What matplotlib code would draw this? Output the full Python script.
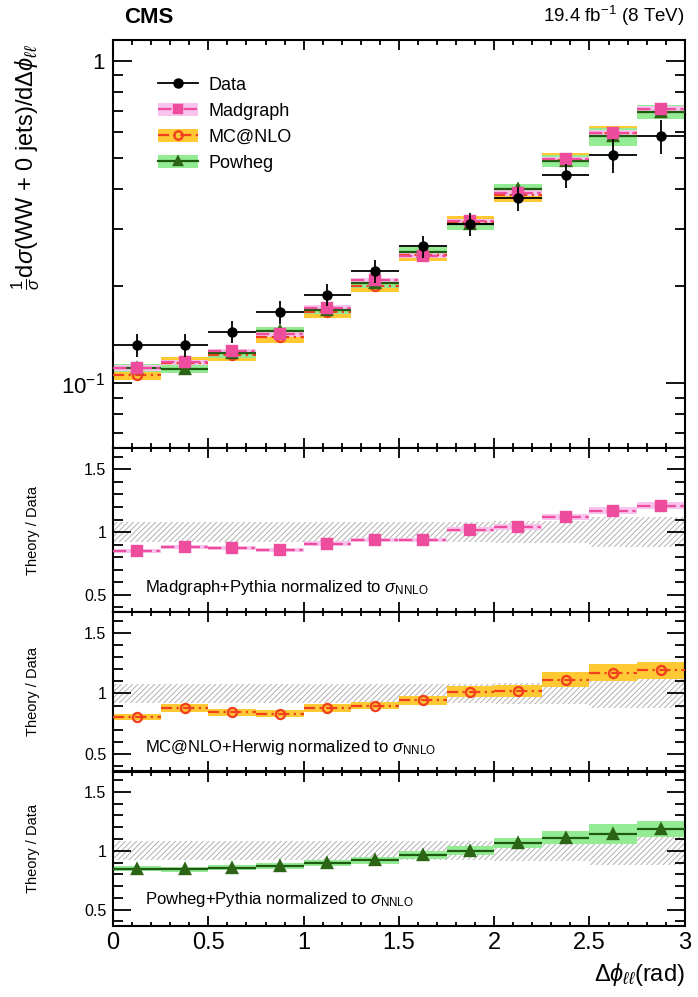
import numpy as np
import matplotlib
matplotlib.use("Agg")
import matplotlib.pyplot as plt
from matplotlib import ticker
from matplotlib.patches import Patch
from matplotlib.lines import Line2D

plt.rcParams['font.family'] = ['Liberation Sans', 'DejaVu Sans']
plt.rcParams['mathtext.fontset'] = 'custom'
plt.rcParams['mathtext.rm'] = 'Liberation Sans'
plt.rcParams['mathtext.it'] = 'Liberation Sans:italic'
plt.rcParams['mathtext.bf'] = 'Liberation Sans:bold'
plt.rcParams['hatch.linewidth'] = 0.7

# bin edges in delta phi (rad)
edges = [0.0, 0.25, 0.5, 0.75, 1.0, 1.25, 1.5, 1.75, 2.0, 2.25, 2.5, 2.75, 3.0]

# normalised data and relative uncertainty
data = [0.131, 0.131, 0.144, 0.166, 0.188, 0.222, 0.265, 0.311, 0.374, 0.441, 0.509, 0.584]
data_unc = [0.08, 0.08, 0.08, 0.08, 0.08, 0.08, 0.08, 0.08, 0.085, 0.085, 0.12, 0.12]

# theory / data ratios and relative theory uncertainties
ratio_mg = [0.85, 0.884, 0.87, 0.855, 0.908, 0.937, 0.937, 1.02, 1.04, 1.12, 1.17, 1.21]
unc_mg = [0.02, 0.02, 0.02, 0.02, 0.02, 0.02, 0.02, 0.02, 0.02, 0.02, 0.02, 0.02]
ratio_nlo = [0.806, 0.88, 0.846, 0.833, 0.88, 0.90, 0.942, 1.013, 1.02, 1.114, 1.17, 1.19]
unc_nlo = [0.035, 0.04, 0.04, 0.04, 0.04, 0.04, 0.04, 0.045, 0.045, 0.05, 0.05, 0.05]
ratio_pw = [0.849, 0.843, 0.857, 0.871, 0.894, 0.92, 0.963, 1.0, 1.066, 1.109, 1.143, 1.186]
unc_pw = [0.03, 0.03, 0.03, 0.03, 0.03, 0.035, 0.035, 0.04, 0.04, 0.045, 0.065, 0.05]

lo = np.array(edges[:-1])
hi = np.array(edges[1:])
w = hi - lo
ctr = (lo + hi) / 2
data = np.array(data)
data_unc = np.array(data_unc)

# styles: band colour, line colour, linestyle, marker
styles = {
    'Madgraph': dict(band='#f8c4ee', line='#ee4c9c', ls=(0, (6, 2, 1.5, 2)), m='s', mfc='#ee4c9c', mec='#ee4c9c', ms=6.5),
    'MC@NLO': dict(band='#ffc933', line='#f0401e', ls=(0, (5, 2, 1, 2)), m='o', mfc='none', mec='#f0401e', ms=6.5),
    'Powheg': dict(band='#93ec93', line='#1e5a10', ls='-', m='^', mfc='#2a6414', mec='#2a6414', ms=6.5),
}

fig = plt.figure(figsize=(6.98, 9.97), dpi=100)
L, W = 0.162, 0.819
ax0 = fig.add_axes([L, 0.5505, W, 0.4095])
ax1 = fig.add_axes([L, 0.386, W, 0.1645])
ax2 = fig.add_axes([L, 0.2267, W, 0.1593])
ax3 = fig.add_axes([L, 0.0712, W, 0.1545])


def frame(ax):
    for s in ax.spines.values():
        s.set_linewidth(1.5)
    ax.set_xlim(0, 3)
    ax.xaxis.set_major_locator(ticker.MultipleLocator(0.5))
    ax.xaxis.set_minor_locator(ticker.MultipleLocator(0.1))
    ax.tick_params(which='both', direction='in', top=True, right=True, width=1.3)


def draw_mc(ax, name, vals, unc):
    st = styles[name]
    ax.bar(lo, 2 * unc * vals, bottom=vals * (1 - unc), width=w, align='edge',
           color=st['band'], lw=0, zorder=2)
    ax.hlines(vals, lo, hi, colors=st['line'], linestyles=st['ls'], lw=1.6, zorder=3)
    ax.plot(ctr, vals, ls='none', marker=st['m'], mfc=st['mfc'], mec=st['mec'],
            mew=1.7, ms=st['ms'], zorder=4)


# ---------------- top panel
frame(ax0)
ax0.set_yscale('log')
ax0.set_ylim(0.0627, 1.16)
draw_mc(ax0, 'MC@NLO', data * np.array(ratio_nlo), np.array(unc_nlo))
draw_mc(ax0, 'Powheg', data * np.array(ratio_pw), np.array(unc_pw))
draw_mc(ax0, 'Madgraph', data * np.array(ratio_mg), np.array(unc_mg))
ax0.errorbar(ctr, data, xerr=w / 2, yerr=data * data_unc, fmt='o', color='black',
             ms=6.5, elinewidth=1.3, capsize=0, zorder=6)
ax0.yaxis.set_major_locator(ticker.FixedLocator([0.1, 1.0]))
ax0.yaxis.set_major_formatter(ticker.FixedFormatter(['$10^{-1}$', '1']))
ax0.yaxis.set_minor_locator(ticker.LogLocator(subs=np.arange(2, 10)))
ax0.yaxis.set_minor_formatter(ticker.NullFormatter())
ax0.tick_params(axis='y', which='major', length=14, labelsize=16, pad=6)
ax0.tick_params(axis='y', which='minor', length=7)
ax0.tick_params(axis='x', which='major', length=7)
ax0.tick_params(axis='x', which='minor', length=3.5)
ax0.set_xticklabels([])
ax0.set_ylabel(r'$\frac{1}{\sigma}$d$\sigma$(WW + 0 jets)/d$\Delta\phi_{\ell\ell}$',
               fontsize=17, loc='top')
ax0.yaxis.set_label_coords(-0.125, 0.99)

ax0.text(0.02, 1.03, 'CMS', transform=ax0.transAxes, fontsize=16, fontweight='bold',
         ha='left', va='bottom')
ax0.text(1.0, 1.03, r'19.4 fb$^{-1}$ (8 TeV)', transform=ax0.transAxes, fontsize=13.5,
         ha='right', va='bottom')

handles = [
    Line2D([], [], color='black', marker='o', ms=6.5, lw=1.3),
]
for name in ['Madgraph', 'MC@NLO', 'Powheg']:
    st = styles[name]
    handles.append((Patch(facecolor=st['band'], lw=0),
                    Line2D([], [], color=st['line'], ls=st['ls'], lw=1.6, marker=st['m'],
                           mfc=st['mfc'], mec=st['mec'], mew=1.7, ms=6)))
ax0.legend(handles, ['Data', 'Madgraph', 'MC@NLO', 'Powheg'], loc='upper left',
           bbox_to_anchor=(0.05, 0.95), frameon=False, fontsize=13, handlelength=2.2,
           labelspacing=0.5, handletextpad=0.6)

# ---------------- ratio panels
panels = [
    (ax1, 'Madgraph', ratio_mg, unc_mg, r'Madgraph+Pythia normalized to $\sigma_{\mathrm{NNLO}}$', 0.15),
    (ax2, 'MC@NLO', ratio_nlo, unc_nlo, r'MC@NLO+Herwig normalized to $\sigma_{\mathrm{NNLO}}$', 0.145),
    (ax3, 'Powheg', ratio_pw, unc_pw, r'Powheg+Pythia normalized to $\sigma_{\mathrm{NNLO}}$', 0.17),
]
for ax, name, r, u, label, ty in panels:
    frame(ax)
    ax.set_ylim(0.36, 1.67)
    ax.bar(lo, 2 * data_unc, bottom=1 - data_unc, width=w, align='edge', fill=False,
           hatch='//////', edgecolor='#b0b0b0', lw=0, zorder=1)
    draw_mc(ax, name, np.array(r), np.array(r) * np.array(u))
    ax.yaxis.set_major_locator(ticker.FixedLocator([0.5, 1.0, 1.5]))
    ax.yaxis.set_major_formatter(ticker.FixedFormatter(['0.5', '1', '1.5']))
    ax.yaxis.set_minor_locator(ticker.MultipleLocator(0.1))
    ax.tick_params(axis='y', which='major', length=13, labelsize=11.5, pad=5)
    ax.tick_params(axis='y', which='minor', length=7)
    ax.tick_params(axis='x', which='major', length=7)
    ax.tick_params(axis='x', which='minor', length=3)
    ax.set_ylabel('Theory / Data', fontsize=10.5)
    ax.yaxis.set_label_coords(-0.128, 0.5)
    ax.text(0.056, ty, label, transform=ax.transAxes, fontsize=12, ha='left', va='center')
    if ax is not ax3:
        ax.set_xticklabels([])

ax3.set_xticks([0, 0.5, 1, 1.5, 2, 2.5, 3])
ax3.set_xticklabels(['0', '0.5', '1', '1.5', '2', '2.5', '3'])
ax3.tick_params(axis='x', labelsize=17, pad=4)
ax3.set_xlabel(r'$\Delta\phi_{\ell\ell}$(rad)', fontsize=17, loc='right')
ax3.xaxis.set_label_coords(1.0, -0.23)

fig.savefig('out.png', dpi=100)
